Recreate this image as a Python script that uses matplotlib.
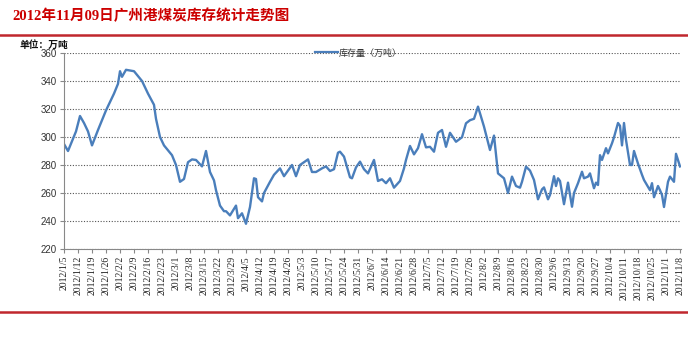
import matplotlib
matplotlib.use("Agg")
import matplotlib.pyplot as plt
import matplotlib.dates as mdates
import pandas as pd
from matplotlib.lines import Line2D

plt.rcParams['font.family'] = ['DejaVu Sans', 'Noto Sans CJK SC']

title = "2012年11月09日广州港煤炭库存统计走势图"
unit_label = "单位：万吨"
series_name = "库存量（万吨）"

dates = [
    "2012-01-05", "2012-01-07", "2012-01-11", "2012-01-13", "2012-01-15", "2012-01-17", "2012-01-19",
    "2012-01-22", "2012-01-26", "2012-01-30", "2012-02-01", "2012-02-02", "2012-02-03", "2012-02-05",
    "2012-02-09", "2012-02-13", "2012-02-16", "2012-02-19", "2012-02-20", "2012-02-22", "2012-02-24",
    "2012-02-28", "2012-03-01", "2012-03-03", "2012-03-05", "2012-03-07", "2012-03-09", "2012-03-11",
    "2012-03-14", "2012-03-16", "2012-03-18", "2012-03-20", "2012-03-21", "2012-03-23", "2012-03-25",
    "2012-03-26", "2012-03-28", "2012-03-31", "2012-04-01", "2012-04-03", "2012-04-05", "2012-04-07",
    "2012-04-09", "2012-04-10", "2012-04-11", "2012-04-13", "2012-04-14", "2012-04-17", "2012-04-19",
    "2012-04-22", "2012-04-24", "2012-04-26", "2012-04-28", "2012-04-30", "2012-05-02", "2012-05-06",
    "2012-05-08", "2012-05-10", "2012-05-13", "2012-05-15", "2012-05-17", "2012-05-19", "2012-05-21",
    "2012-05-22", "2012-05-24", "2012-05-25", "2012-05-27", "2012-05-28", "2012-05-30", "2012-06-01",
    "2012-06-03", "2012-06-05", "2012-06-08", "2012-06-10", "2012-06-12", "2012-06-14", "2012-06-16",
    "2012-06-18", "2012-06-21", "2012-06-23", "2012-06-24", "2012-06-26", "2012-06-28", "2012-06-30",
    "2012-07-02", "2012-07-04", "2012-07-06", "2012-07-08", "2012-07-10", "2012-07-12", "2012-07-14",
    "2012-07-16", "2012-07-19", "2012-07-22", "2012-07-24", "2012-07-26", "2012-07-28", "2012-07-30",
    "2012-08-02", "2012-08-05", "2012-08-07", "2012-08-09", "2012-08-11", "2012-08-12", "2012-08-14",
    "2012-08-16", "2012-08-18", "2012-08-20", "2012-08-21", "2012-08-23", "2012-08-25", "2012-08-27",
    "2012-08-29", "2012-08-31", "2012-09-01", "2012-09-03", "2012-09-04", "2012-09-06", "2012-09-07",
    "2012-09-08", "2012-09-09", "2012-09-11", "2012-09-13", "2012-09-15", "2012-09-16", "2012-09-18",
    "2012-09-20", "2012-09-21", "2012-09-23", "2012-09-24", "2012-09-26", "2012-09-27", "2012-09-28",
    "2012-09-29", "2012-09-30", "2012-10-02", "2012-10-03", "2012-10-05", "2012-10-06", "2012-10-08",
    "2012-10-09", "2012-10-10", "2012-10-11", "2012-10-12", "2012-10-14", "2012-10-15", "2012-10-16",
    "2012-10-18", "2012-10-20", "2012-10-21", "2012-10-24", "2012-10-25", "2012-10-26", "2012-10-28",
    "2012-10-29", "2012-10-30", "2012-10-31", "2012-11-02", "2012-11-03", "2012-11-05", "2012-11-06",
    "2012-11-08",
]
stock = [
    295, 290, 304, 315, 310, 304, 294,
    305, 319, 331, 338, 347, 343, 348,
    347, 340, 331, 323, 313, 300, 294,
    287, 280, 268, 270, 282, 284, 283.6,
    279, 290, 275, 269, 262, 251, 247,
    247, 244, 251, 242, 245.5, 238, 250,
    270.5, 270, 257, 254, 260, 268, 273,
    277.6, 272, 276, 280, 272, 280, 284,
    275, 275, 277.6, 279, 275.7, 277, 288.8,
    289.5, 286, 281, 271.2, 270.5, 278.3, 282.4,
    277, 274, 283.6, 268.6, 269.8, 267, 270.5,
    263.8, 268.6, 277.6, 283.6, 293.6, 287.6, 292,
    302, 292.6, 293, 289.5, 303, 305, 293,
    303, 296.6, 299.8, 309.8, 312, 313, 321.7,
    307.4, 290.7, 301, 274, 271.7, 270.5, 260,
    271.7, 265, 263.8, 268, 278.8, 276, 269.3,
    255.5, 262.6, 264, 255.5, 258.6, 272, 265,
    270.5, 268.6, 252, 267.4, 250.2, 260, 267,
    275.2, 270.5, 271.7, 274, 263.4, 267.4, 265.7,
    287, 283.6, 292, 288.3, 295.5, 299.8, 310,
    308, 294, 310, 298, 280, 280, 290,
    281, 273, 269.3, 262, 267, 257, 265,
    262, 258.6, 250, 268, 271.7, 268, 288,
    279,
]
y_ticks = [220, 240, 260, 280, 300, 320, 340, 360]
tick_dates = pd.date_range("2012-01-05", "2012-11-08", freq="7D")
tick_labels = [f"{d.year}/{d.month}/{d.day}" for d in tick_dates]

x = pd.to_datetime(dates)

fig = plt.figure(figsize=(6.88, 3.40), dpi=100)
ax = fig.add_axes([64/688, 1-249/340, (681-64)/688, (249-53)/340])

ax.plot(x, stock, color='#4a7ebb', lw=1.7, solid_joinstyle='round')

ax.set_ylim(220, 360)
ax.set_yticks(y_ticks)
ax.set_xlim(pd.Timestamp("2012-01-05"), pd.Timestamp("2012-11-08 12:00"))
ax.set_xticks(tick_dates)
ax.set_xticklabels(tick_labels, rotation=90, family=['Liberation Serif'], fontsize=7, color='#222222')
ax.tick_params(axis='x', length=3, width=0.8, color='#888888', pad=2)
ax.tick_params(axis='y', length=3, width=0.8, color='#888888', labelsize=7, labelcolor='#333333', pad=2)
for lbl in ax.get_yticklabels():
    lbl.set_family(['Liberation Sans'])

ax.grid(axis='y', linestyle=(0, (1, 1.5)), color='#555555', lw=0.8)
ax.set_axisbelow(True)
for s in ['top', 'right']:
    ax.spines[s].set_visible(False)
ax.spines['left'].set_color('#888888')
ax.spines['bottom'].set_color('#888888')

# legend on top gridline
handle = Line2D([], [], color='#4a7ebb', lw=1.6)
ax.legend([handle], [series_name], loc='center', bbox_to_anchor=(0.477, 1.0), frameon=False,
          prop={'family': ['Noto Sans CJK SC'], 'size': 6.5}, handlelength=2.6, handletextpad=0.1,
          labelcolor='#333333')

# title and decorations
fig.text(12/688, 1-16/340, title, color='#cc0000', fontsize=10.5, fontweight='bold',
         family=['Liberation Serif', 'Noto Sans CJK SC'], va='center', ha='left')
fig.add_artist(Line2D([0, 1], [1-35/340, 1-35/340], color='#c0272d', lw=1.8))
fig.add_artist(Line2D([0, 1], [1-312/340, 1-312/340], color='#c0272d', lw=1.8))
fig.text(20/688, 1-45/340, unit_label, fontsize=7, fontweight='bold',
         family=['Noto Sans CJK SC'], va='center', ha='left', color='#111111')

fig.savefig("out.png", dpi=100)
